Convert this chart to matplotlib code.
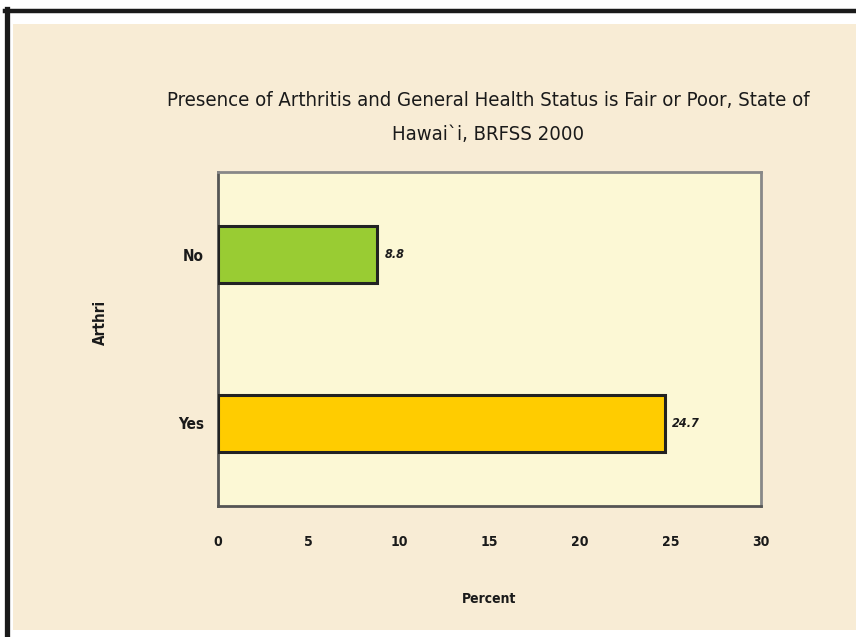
import matplotlib
matplotlib.use("Agg")
import matplotlib.pyplot as plt
from matplotlib.patches import Rectangle
from matplotlib.lines import Line2D

categories = ["Yes", "No"]
values = [24.7, 8.8]
value_labels = ["24.7", "8.8"]
bar_colors = ["#FFCC00", "#99CC33"]
x_ticks = [0, 5, 10, 15, 20, 25, 30]
title = "Presence of Arthritis and General Health Status is Fair or Poor, State of\nHawai`i, BRFSS 2000"
xlabel = "Percent"
ylabel = "Arthri"

W, H = 856, 637
fig = plt.figure(figsize=(W / 100, H / 100), dpi=100)
fig.patch.set_facecolor("white")

def fx(px):
    return px / W

def fy(py):
    return 1 - py / H

# parchment background
fig.patches.append(Rectangle((fx(13), fy(630)), fx(856 - 13), (630 - 24) / H,
                             transform=fig.transFigure, facecolor="#F8ECD5",
                             edgecolor="none", zorder=-2))
# black border (top and left)
fig.lines.append(Line2D([fx(5), fx(856)], [fy(10.5), fy(10.5)], transform=fig.transFigure,
                        color="#1a1a1a", linewidth=3.2, zorder=-1))
fig.lines.append(Line2D([fx(7), fx(7)], [fy(9), fy(637)], transform=fig.transFigure,
                        color="#1a1a1a", linewidth=3.8, zorder=-1))

fam = ["DejaVu Sans"]
st = "condensed"

ax = fig.add_axes([fx(218), fy(506), fx(761 - 218), (506 - 172) / H])
ax.set_zorder(2)
ax.set_facecolor("#FCF8D5")
ypos = list(range(len(categories)))
bars = ax.barh(ypos, values, height=0.34, color=bar_colors, edgecolor="#222222",
               linewidth=2.2, zorder=3)
ax.set_xlim(0, 30)
ax.set_ylim(-0.49, 1.49)
ax.set_xticks(x_ticks)
ax.set_xticklabels([str(t) for t in x_ticks], family=fam, fontstretch=st, fontsize=10, fontweight="bold")
ax.set_yticks(ypos)
ax.set_yticklabels(categories, family=fam, fontstretch=st, fontsize=11, fontweight="bold")
ax.tick_params(axis="both", length=0, colors="#1a1a1a")
ax.tick_params(axis="x", pad=21)
ax.tick_params(axis="y", pad=10)
for s in ["left", "bottom"]:
    ax.spines[s].set_color("#555555")
    ax.spines[s].set_linewidth(2.0)
for s in ["top", "right"]:
    ax.spines[s].set_color("#888888")
    ax.spines[s].set_linewidth(2.0)

for yp, v, lab in zip(ypos, values, value_labels):
    ax.text(v + 0.4, yp, lab, va="center", ha="left", family=fam, fontstretch=st, fontsize=9,
            fontweight="bold", fontstyle="italic", color="#1a1a1a", zorder=4)

ax.set_xlabel(xlabel, family=fam, fontstretch=st, fontsize=10, fontweight="bold", labelpad=31, color="#1a1a1a")
fig.text(fx(100), fy(322), ylabel, rotation=90, ha="center", va="center", family=fam,
         fontstretch=st, fontsize=11, fontweight="bold", color="#1a1a1a")

fig.text(fx(488), fy(117), title, ha="center", va="center", family=fam, fontstretch=st,
         fontsize=14.6, color="#1a1a1a", linespacing=2.0)

fig.savefig("out.png", dpi=100, facecolor=fig.get_facecolor())
